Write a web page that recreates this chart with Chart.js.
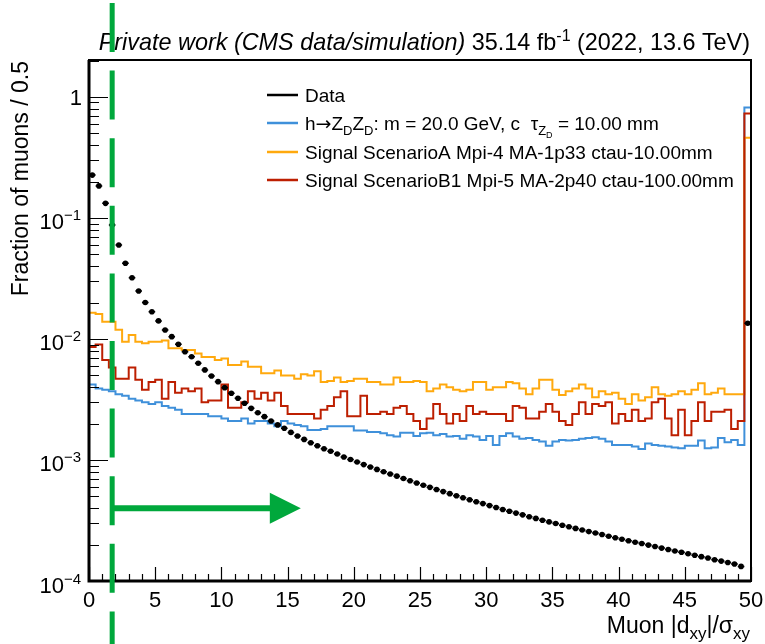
<!DOCTYPE html>
<html>
<head>
<meta charset="utf-8">
<script src="https://cdn.jsdelivr.net/npm/chart.js@4.4.1/dist/chart.umd.min.js"></script>
<style>
  html, body { margin: 0; padding: 0; background: #fff; }
  canvas { display: block; }
</style>
</head>
<body>
<canvas id="c" width="765" height="644"></canvas>
<script>
// Binning of the |dxy|/sigma_xy histograms (last bin also holds the overflow)
const binWidth = 0.5;
const xMin = 0;
const xMax = 50;
const yMin = 1e-4;
const yMax = 2.02;

// Axis ticks and labels
const xMajorTicks = [0, 5, 10, 15, 20, 25, 30, 35, 40, 45, 50];
const xTickLabels = ['0', '5', '10', '15', '20', '25', '30', '35', '40', '45', '50'];
const yMajorTicks = [1e-4, 1e-3, 1e-2, 1e-1, 1];
const yTickBase = ['10', '10', '10', '10', '1'];
const yTickExp = ['\u22124', '\u22123', '\u22122', '\u22121', ''];

// Fraction of muons per bin
const dataFrac = [
  0.226, 0.184, 0.132, 0.0875, 0.0598, 0.0423, 0.0321, 0.0249, 0.0200, 0.0168,
  0.0141, 0.01186, 0.01045, 0.00904, 0.00785, 0.00714, 0.00630, 0.00555, 0.00494, 0.00444,
  0.00396, 0.00356, 0.00324, 0.00294, 0.00267, 0.00246, 0.00228, 0.00210, 0.00195, 0.00183,
  0.00169, 0.00158, 0.00148, 0.00139, 0.00131, 0.00124, 0.00118, 0.00112, 0.00106, 0.00101,
  9.62e-4, 9.16e-4, 8.75e-4, 8.36e-4, 8.00e-4, 7.66e-4, 7.35e-4, 7.03e-4, 6.73e-4, 6.46e-4,
  6.19e-4, 5.94e-4, 5.70e-4, 5.48e-4, 5.27e-4, 5.07e-4, 4.88e-4, 4.69e-4, 4.52e-4, 4.36e-4,
  4.20e-4, 4.05e-4, 3.90e-4, 3.77e-4, 3.64e-4, 3.52e-4, 3.40e-4, 3.29e-4, 3.18e-4, 3.08e-4,
  2.99e-4, 2.89e-4, 2.81e-4, 2.72e-4, 2.64e-4, 2.56e-4, 2.49e-4, 2.42e-4, 2.34e-4, 2.28e-4,
  2.21e-4, 2.15e-4, 2.09e-4, 2.04e-4, 1.98e-4, 1.93e-4, 1.87e-4, 1.82e-4, 1.77e-4, 1.73e-4,
  1.68e-4, 1.63e-4, 1.59e-4, 1.55e-4, 1.50e-4, 1.46e-4, 1.42e-4, 1.38e-4, 1.32e-4, 1.35e-2
];

const zdFrac = [
  0.0042, 0.0039, 0.0038, 0.0037, 0.0035, 0.0034, 0.0032, 0.0031, 0.0030, 0.0029,
  0.0030, 0.0028, 0.0027, 0.0026, 0.0024, 0.0024, 0.0024, 0.0024, 0.0023, 0.0023,
  0.0022, 0.0021, 0.0021, 0.0022, 0.0020, 0.0021, 0.0021, 0.0020, 0.0019, 0.0021,
  0.0020, 0.00195, 0.0019, 0.00177, 0.00177, 0.0018, 0.0019, 0.0019, 0.0019, 0.0019,
  0.00175, 0.00175, 0.0017, 0.0017, 0.00166, 0.0016, 0.00156, 0.00168, 0.00168, 0.00158,
  0.00166, 0.00168, 0.0016, 0.00164, 0.00156, 0.00158, 0.0015, 0.0016, 0.00156, 0.00146,
  0.00158, 0.00133, 0.00158, 0.00166, 0.00156, 0.0015, 0.00152, 0.00146, 0.00142, 0.00131,
  0.00142, 0.00146, 0.00145, 0.00146, 0.0015, 0.00152, 0.00154, 0.0015, 0.00142, 0.00133,
  0.00133, 0.00133, 0.00129, 0.00123, 0.00137, 0.00133, 0.00131, 0.00129, 0.00127, 0.00125,
  0.00131, 0.00131, 0.00145, 0.00125, 0.00127, 0.00152, 0.0014, 0.00146, 0.00133, 0.82
];

const scenAFrac = [
  0.0165, 0.0161, 0.0139, 0.0139, 0.0119, 0.0095, 0.0108, 0.0095, 0.0092, 0.0095,
  0.0095, 0.0097, 0.0084, 0.0084, 0.0081, 0.0081, 0.0076, 0.0071, 0.0071, 0.0067,
  0.0069, 0.0061, 0.0061, 0.0065, 0.0059, 0.0059, 0.0052, 0.0052, 0.0055, 0.0050,
  0.0050, 0.0047, 0.0051, 0.0050, 0.0054, 0.0044, 0.0045, 0.0048, 0.0044, 0.0045,
  0.0047, 0.0047, 0.0044, 0.0044, 0.0042, 0.0042, 0.0048, 0.0044, 0.0044, 0.0045,
  0.0044, 0.0037, 0.0039, 0.0042, 0.0040, 0.0038, 0.0037, 0.0038, 0.0044, 0.0044,
  0.0038, 0.0040, 0.0040, 0.0044, 0.0043, 0.0039, 0.0035, 0.0039, 0.0046, 0.0046,
  0.0038, 0.00345, 0.0037, 0.0039, 0.0042, 0.0039, 0.0033, 0.0037, 0.0035, 0.0036,
  0.0032, 0.0029, 0.0035, 0.0031, 0.0033, 0.0040, 0.0035, 0.0034, 0.0035, 0.0037,
  0.0035, 0.0038, 0.0043, 0.0035, 0.0036, 0.0039, 0.0035, 0.0035, 0.0035, 0.46
];

const scenB1Frac = [
  0.0086, 0.0090, 0.0067, 0.0058, 0.0047, 0.0047, 0.0058, 0.0046, 0.0038, 0.0044,
  0.0046, 0.0032, 0.0044, 0.0036, 0.0039, 0.0037, 0.0039, 0.0030, 0.0031, 0.0031,
  0.0042, 0.0027, 0.0027, 0.0030, 0.0037, 0.0032, 0.0036, 0.0031, 0.0036, 0.0028,
  0.0024, 0.0024, 0.0024, 0.0024, 0.0022, 0.0026, 0.0028, 0.0033, 0.0037, 0.0023,
  0.0023, 0.0034, 0.0024, 0.0024, 0.0025, 0.0024, 0.0027, 0.0028, 0.0024, 0.0021,
  0.0018, 0.0022, 0.0029, 0.0024, 0.0020, 0.0024, 0.0021, 0.0028, 0.0024, 0.0025,
  0.0024, 0.0024, 0.0024, 0.0021, 0.0028, 0.0027, 0.0022, 0.0022, 0.0025, 0.0029,
  0.0025, 0.0021, 0.00195, 0.0024, 0.0030, 0.0024, 0.0029, 0.0028, 0.0030, 0.0020,
  0.0024, 0.0021, 0.0026, 0.0021, 0.0022, 0.0030, 0.0032, 0.0022, 0.0016, 0.0026,
  0.0016, 0.0021, 0.0030, 0.0021, 0.0025, 0.0025, 0.0026, 0.0018, 0.0021, 0.73
];

// Selection marker: cut position and arrow pointing to the kept region
const cutValue = 1.75;
const arrowTipX = 16;
const arrowLevel = 4.0e-4;

const FONT = '"Liberation Sans", Arial, Helvetica, sans-serif';
const SYMBOL_FONT = '"DejaVu Sans", sans-serif';
const colData = '#000000';
const colZD = '#3f90da';
const colA = '#ffa90e';
const colB1 = '#bd1f01';
const colCut = '#00a83c';

// Histogram outline: one point per bin lower edge plus the upper edge of the last bin
function histPoints(vals) {
  const pts = vals.map((v, i) => ({ x: xMin + i * binWidth, y: v }));
  pts.push({ x: xMin + vals.length * binWidth, y: vals[vals.length - 1] });
  return pts;
}
// Data markers at the bin centres
function centrePoints(vals) {
  return vals.map((v, i) => ({ x: xMin + (i + 0.5) * binWidth, y: v }));
}

// Draws a run of text pieces (normal / sub / superscript) starting from x
function richText(c, parts, x, y, align) {
  const fontOf = p => `${p.style || ''} ${p.size}px ${p.family || FONT}`;
  let w = 0;
  parts.forEach(p => {
    c.font = fontOf(p);
    p.w = c.measureText(p.t).width;
    w += p.w;
  });
  let cx = align === 'right' ? x - w : (align === 'center' ? x - w / 2 : x);
  c.textAlign = 'left';
  c.textBaseline = 'alphabetic';
  parts.forEach(p => {
    c.font = fontOf(p);
    c.fillText(p.t, cx, y + (p.dy || 0));
    cx += p.w;
  });
  return w;
}

const LS = 19;   // legend text size
const LSub = 13; // legend subscript size
const legendEntries = [
  { color: colData, parts: [{ t: 'Data', size: LS }] },
  { color: colZD, parts: [
      { t: 'h', size: LS }, { t: '\u2192', size: LS, family: SYMBOL_FONT }, { t: 'Z', size: LS },
      { t: 'D', size: LSub, dy: 5 },
      { t: 'Z', size: LS }, { t: 'D', size: LSub, dy: 5 },
      { t: ': m = 20.0 GeV, c  \u03c4', size: LS },
      { t: 'Z', size: LSub, dy: 5 }, { t: 'D', size: 9, dy: 8 },
      { t: ' = 10.00 mm', size: LS } ] },
  { color: colA, parts: [{ t: 'Signal ScenarioA Mpi-4 MA-1p33 ctau-10.00mm', size: LS }] },
  { color: colB1, parts: [{ t: 'Signal ScenarioB1 Mpi-5 MA-2p40 ctau-100.00mm', size: LS }] }
];
const legendRowsY = [95, 123, 152, 180];

const decorations = {
  id: 'decorations',
  beforeDraw(chart) {
    const c = chart.ctx;
    c.save();
    c.fillStyle = '#fff';
    c.fillRect(0, 0, chart.width, chart.height);
    c.restore();
  },
  afterDatasetsDraw(chart) {
    const c = chart.ctx;
    const xs = chart.scales.x;
    const ys = chart.scales.y;
    const a = chart.chartArea;
    c.save();

    // horizontal bin-width bars on the data points
    c.strokeStyle = colData;
    c.lineWidth = 1.5;
    c.beginPath();
    centrePoints(dataFrac).forEach(p => {
      const py = ys.getPixelForValue(p.y);
      c.moveTo(xs.getPixelForValue(p.x - binWidth / 2), py);
      c.lineTo(xs.getPixelForValue(p.x + binWidth / 2), py);
    });
    c.stroke();

    // frame
    c.strokeStyle = '#000';
    c.lineWidth = 2;
    c.strokeRect(a.left, a.top, a.right - a.left, a.bottom - a.top);
    c.lineWidth = 3;
    c.beginPath();
    c.moveTo(a.left, a.top);
    c.lineTo(a.left, a.bottom);
    c.lineTo(a.right, a.bottom);
    c.stroke();

    // y ticks (major decades + minor 2..9)
    c.lineWidth = 1.2;
    c.beginPath();
    for (let e = -4; e <= 0; e++) {
      for (let m = 1; m <= 9; m++) {
        const v = m * Math.pow(10, e);
        if (v > yMax) break;
        const py = Math.round(ys.getPixelForValue(v)) + 0.5;
        const len = m === 1 ? 19 : 10;
        c.moveTo(a.left, py);
        c.lineTo(a.left + len, py);
      }
    }
    // x ticks (major every 5, minor every 1)
    for (let k = xMin; k <= xMax; k++) {
      const px = Math.round(xs.getPixelForValue(k)) + 0.5;
      const len = k % 5 === 0 ? 14 : 7;
      c.moveTo(px, a.bottom);
      c.lineTo(px, a.bottom - len);
    }
    c.stroke();

    // tick labels
    c.fillStyle = '#000';
    yMajorTicks.forEach((v, i) => {
      const py = ys.getPixelForValue(v);
      if (yTickExp[i]) {
        richText(c, [{ t: yTickBase[i], size: 22 }, { t: yTickExp[i], size: 15, dy: -9 }], 81, py + 11.5, 'right');
      } else {
        richText(c, [{ t: yTickBase[i], size: 22 }], 82, py + 8, 'right');
      }
    });
    xMajorTicks.forEach((v, i) => {
      richText(c, [{ t: xTickLabels[i], size: 22 }], xs.getPixelForValue(v), 607, 'center');
    });

    // axis titles
    richText(c, [
      { t: 'Muon |d', size: 23 }, { t: 'xy', size: 17, dy: 6 },
      { t: '|/\u03c3', size: 23 }, { t: 'xy', size: 17, dy: 6 }
    ], 750, 633, 'right');
    c.save();
    c.translate(28, 61);
    c.rotate(-Math.PI / 2);
    richText(c, [{ t: 'Fraction of muons / 0.5', size: 23 }], 0, 0, 'right');
    c.restore();

    // title
    richText(c, [
      { t: 'Private work (CMS data/simulation)', size: 23.4, style: 'italic' },
      { t: ' 35.14 fb', size: 23.4 }, { t: '-1', size: 16, dy: -9 },
      { t: ' (2022, 13.6 TeV)', size: 23.4 }
    ], 750, 50, 'right');

    // legend
    legendEntries.forEach((e, i) => {
      const y = legendRowsY[i];
      c.strokeStyle = e.color;
      c.lineWidth = 2.5;
      c.beginPath();
      c.moveTo(267, y);
      c.lineTo(298, y);
      c.stroke();
      c.fillStyle = '#000';
      richText(c, e.parts, 305, y + 7, 'left');
    });

    // selection: dashed cut line and arrow
    const cx = xs.getPixelForValue(cutValue);
    c.strokeStyle = colCut;
    c.lineWidth = 5;
    c.setLineDash([49, 18.6]);
    c.lineDashOffset = -3;
    c.beginPath();
    c.moveTo(cx, 0);
    c.lineTo(cx, chart.height);
    c.stroke();
    c.setLineDash([]);
    const ay = ys.getPixelForValue(arrowLevel);
    const tip = xs.getPixelForValue(arrowTipX);
    c.lineWidth = 6;
    c.beginPath();
    c.moveTo(cx, ay);
    c.lineTo(tip - 28, ay);
    c.stroke();
    c.fillStyle = colCut;
    c.beginPath();
    c.moveTo(tip, ay);
    c.lineTo(tip - 31, ay - 15.5);
    c.lineTo(tip - 31, ay + 15.5);
    c.closePath();
    c.fill();

    c.restore();
  }
};

const histStyle = (color) => ({
  showLine: true, stepped: 'before', borderColor: color, borderWidth: 2,
  pointRadius: 0, fill: false, borderJoinStyle: 'miter', borderCapStyle: 'butt'
});

new Chart(document.getElementById('c'), {
  type: 'scatter',
  data: {
    datasets: [
      { label: 'Data', data: centrePoints(dataFrac), showLine: false,
        pointRadius: 2.8, pointBackgroundColor: colData, pointBorderWidth: 0, order: 0 },
      Object.assign({ label: 'Signal ScenarioB1', data: histPoints(scenB1Frac), order: 1 }, histStyle(colB1)),
      Object.assign({ label: 'Signal ScenarioA', data: histPoints(scenAFrac), order: 2 }, histStyle(colA)),
      Object.assign({ label: 'h to ZDZD', data: histPoints(zdFrac), order: 3 }, histStyle(colZD))
    ]
  },
  options: {
    responsive: false,
    animation: false,
    devicePixelRatio: 1,
    layout: { padding: { left: 89, right: 14, top: 60, bottom: 63 } },
    scales: {
      x: { type: 'linear', min: xMin, max: xMax, display: false },
      y: { type: 'logarithmic', min: yMin, max: yMax, display: false }
    },
    plugins: { legend: { display: false }, tooltip: { enabled: false } }
  },
  plugins: [decorations]
});
</script>
</body>
</html>
